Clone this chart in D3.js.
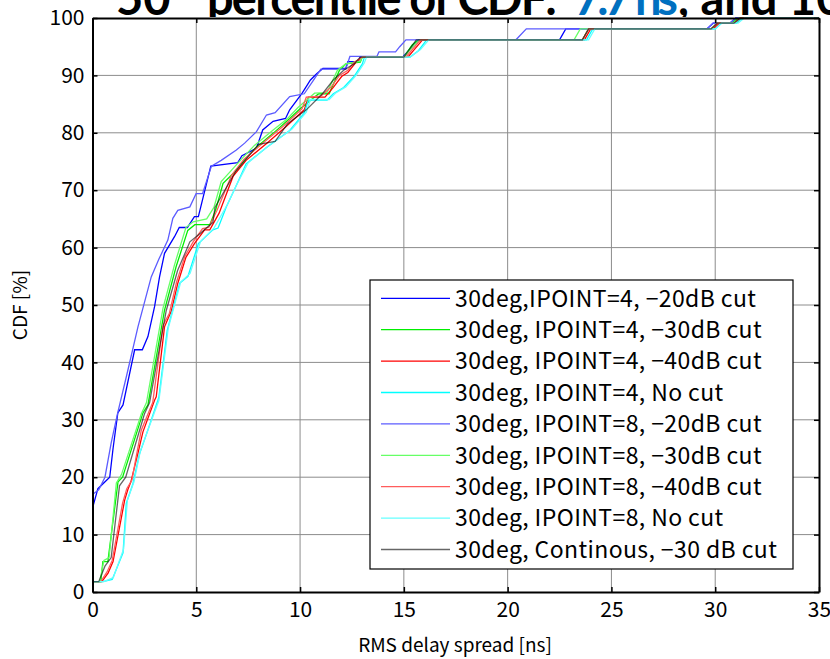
<!DOCTYPE html>
<html>
<head>
<meta charset="utf-8">
<script src="https://cdn.jsdelivr.net/npm/d3@7"></script>
<style>
  body { margin: 0; background: #fff; }
  svg { display: block; }
</style>
</head>
<body>
<div id="chart"></div>
<script>
// CDF curves: [RMS delay spread (ns), CDF (%)]
var ip4cut20 = [[0,14.6],[0.26,18],[0.83,20],[0.99,25],[1.22,31.2],[1.47,32.6],[2.03,42.2],[2.4,42.2],[2.67,44.5],[2.99,49.7],[3.23,54.9],[3.47,59],[3.95,61.9],[4.18,63.5],[4.57,63.5],[4.91,65.4],[5.1,65.4],[5.7,74.2],[7.0,74.8],[7.2,76],[7.9,77.3],[8.2,80.5],[8.7,82],[9.3,82.5],[9.5,84],[10.1,86.9],[10.5,89.2],[10.8,90.3],[11.1,91.2],[12.2,91.2],[12.3,92.4],[12.8,92.4],[12.9,93.2],[14.95,93.2],[15.7,96.2],[22.5,96.2],[22.8,98.1],[29.6,98.1],[29.9,99.1],[30.7,99.1],[31.0,100],[35,100]];
var ip4cut30 = [[0,1.8],[0.4,1.8],[0.5,5.3],[0.74,5.3],[1.23,19.2],[1.45,20],[2.43,31.2],[2.67,32.6],[3.47,49.1],[4.03,56.7],[4.59,63],[4.93,64],[5.65,64],[5.93,66.5],[6.29,71.2],[6.8,73],[7.3,75.2],[7.9,77.5],[8.7,79.9],[9.5,82.5],[10.0,84.2],[10.9,86.8],[11.4,86.8],[11.9,90.9],[12.2,92],[12.9,92.3],[13.0,93.2],[15.0,93.2],[15.4,95.3],[15.7,96.2],[23.6,96.2],[23.9,98.1],[29.8,98.1],[30.1,99.1],[30.8,99.1],[31.1,100],[35,100]];
var ip4cut40 = [[0,1.8],[0.45,1.8],[0.75,3.3],[0.99,5.3],[1.55,16],[1.7,17.8],[1.85,19.2],[2.19,24.2],[2.43,27.9],[2.99,33.4],[3.07,34],[3.47,46.2],[3.8,49],[4.11,53.8],[4.5,58.3],[4.91,60.7],[5.4,63.1],[5.65,63.1],[6.1,66],[6.77,72.4],[7.4,75.2],[8.4,78.2],[9.3,81],[10.2,84],[10.4,86.2],[11.2,86.2],[11.6,87.9],[12.0,89.8],[12.3,90.5],[12.7,92.3],[13.0,93.2],[15.2,93.2],[15.5,94.5],[15.9,96.2],[23.7,96.2],[24.0,98.1],[29.9,98.1],[30.2,99.1],[31.0,99.1],[31.3,100],[35,100]];
var ip4nocut = [[0,1.8],[0.5,1.8],[0.95,2.2],[1.47,6.8],[1.63,15.5],[1.94,18.8],[2.26,24],[2.6,27.5],[3.15,33.4],[3.2,34],[3.6,45.6],[4.2,53.8],[4.6,55],[5.1,60.7],[5.8,63.1],[6.05,63.4],[6.45,67.1],[6.9,70.6],[7.4,74.6],[8.4,77.5],[9.5,80.4],[10.2,83.4],[10.4,85.7],[11.3,85.7],[11.6,86.8],[12.1,87.9],[12.6,89.8],[13.0,92],[13.1,93.2],[15.3,93.2],[15.7,94.3],[16.1,96.2],[23.8,96.2],[24.1,98.1],[30.0,98.1],[30.3,99.1],[31.0,99.1],[31.3,100],[35,100]];
var ip8cut20 = [[0,17],[0.3,17.8],[0.6,20],[0.9,26],[1.2,31],[1.63,37.5],[2.19,46.2],[2.83,54.9],[3.2,58],[3.63,61.3],[3.87,65.1],[4.11,66.5],[4.69,67.1],[4.99,69.4],[5.3,69.4],[5.73,74.2],[6.2,75.2],[6.93,77],[7.33,78.2],[7.9,80.2],[8.38,83.1],[8.8,83.5],[9.5,86.3],[10.2,86.8],[10.6,88.9],[11.0,91.1],[12.2,91.1],[12.4,93.3],[13.7,93.3],[13.8,94.1],[14.6,94.1],[14.8,95],[15.1,96.2],[20.4,96.2],[20.9,98.1],[29.6,98.1],[29.9,99.1],[30.7,99.1],[31.0,100],[35,100]];
var ip8cut30 = [[0,1.8],[0.35,1.8],[0.55,5.5],[0.8,6],[1.15,19],[1.4,20.5],[2.35,31],[2.6,33],[3.4,49.5],[3.95,57],[4.5,63.5],[4.85,64.5],[5.5,65],[5.85,67],[6.2,71.5],[6.7,73.5],[7.2,75.5],[7.8,77.8],[8.6,80.2],[9.4,82.5],[9.9,84.4],[10.7,86.9],[11.3,87],[11.8,90.9],[12.2,92],[12.9,92.5],[13.0,93.2],[15.0,93.2],[15.5,95.3],[15.8,96.2],[23.2,96.2],[23.5,98.1],[29.8,98.1],[30.1,99.1],[30.9,99.1],[31.2,100],[35,100]];
var ip8cut40 = [[0,1.8],[0.4,1.8],[0.7,3.5],[0.95,5.5],[1.45,15.5],[1.65,18],[1.9,19.5],[2.1,23.5],[2.35,28.2],[2.9,33],[3.4,46.5],[3.7,48.5],[4.05,54],[4.45,58.5],[4.85,61],[5.3,63.3],[5.6,63.5],[6.0,66.5],[6.7,72.6],[7.3,75.4],[8.3,78.5],[9.2,81.2],[10.1,84.2],[10.3,86.2],[11.0,86.4],[11.5,88],[11.9,90],[12.3,90.9],[12.6,92.3],[13.0,93.2],[15.1,93.2],[15.8,96.2],[23.6,96.2],[23.9,98.1],[29.8,98.1],[30.1,99.1],[30.9,99.1],[31.2,100],[35,100]];
var ip8nocut = [[0,1.8],[0.55,1.8],[1.0,2.5],[1.5,7.5],[1.68,16],[2.0,19.2],[2.3,24.5],[2.65,28],[3.2,33.4],[3.65,46],[4.25,54],[4.7,55.5],[5.2,61],[5.85,63.4],[6.5,67.5],[6.95,71],[7.5,74.8],[8.5,77.8],[9.6,80.6],[10.3,83.6],[10.5,85.8],[11.4,85.8],[11.7,86.9],[12.2,88],[12.7,90],[13.1,92.2],[13.2,93.2],[15.3,93.2],[15.8,94.5],[16.2,96.2],[23.9,96.2],[24.2,98.1],[30.0,98.1],[30.3,99.1],[31.1,99.1],[31.4,100],[35,100]];
var contcut30 = [[0,1.8],[0.3,1.8],[0.6,4.5],[0.9,6],[1.3,18.5],[1.6,20],[2.5,31],[2.75,33],[3.55,49],[4.1,56],[4.69,61],[5.2,62.5],[5.8,64.4],[5.9,67],[6.9,73.3],[8.0,78],[8.8,78.5],[9.4,81.6],[10.3,84],[11.1,86.9],[11.6,89.2],[12.1,90.9],[12.6,92],[12.9,93.2],[15.0,93.2],[15.6,96.2],[23.6,96.2],[23.9,98.1],[29.8,98.1],[30.1,99.1],[30.9,99.1],[31.2,100],[35,100]];

var seriesData = [ip4cut20, ip4cut30, ip4cut40, ip4nocut, ip8cut20, ip8cut30, ip8cut40, ip8nocut, contcut30];
var seriesNames = [
    "30deg,IPOINT=4, \u221220dB cut",
    "30deg, IPOINT=4, \u221230dB cut",
    "30deg, IPOINT=4, \u221240dB cut",
    "30deg, IPOINT=4, No cut",
    "30deg, IPOINT=8, \u221220dB cut",
    "30deg, IPOINT=8, \u221230dB cut",
    "30deg, IPOINT=8, \u221240dB cut",
    "30deg, IPOINT=8, No cut",
    "30deg, Continous, \u221230 dB cut"
];
var xTicks = [0, 5, 10, 15, 20, 25, 30, 35];
var yTicks = [0, 10, 20, 30, 40, 50, 60, 70, 80, 90, 100];

// line styles
var colors = ["#0000ff", "#00ee00", "#ff0000", "#00ffff", "#5c5cff", "#66ff66", "#ff5c5c", "#66ffff", "#000000"];
var opac = [1, 1, 1, 1, 1, 1, 1, 1, 0.6];

var W = 830, H = 659;
var margin = {top: 18, right: 11, bottom: 67, left: 92.5};

var svg = d3.select("#chart").append("svg")
    .attr("width", W)
    .attr("height", H);

// slide title, mostly hidden behind the plot image
var title = svg.append("text")
    .attr("y", 15)
    .style("font-family", "Lato, 'Open Sans', sans-serif")
    .style("font-weight", "700")
    .style("font-size", "47px")
    .attr("fill", "#000");
title.append("tspan").attr("x", 116).text("50");
title.append("tspan").attr("x", 207).attr("textLength", 350).text("percentile of CDF:");
title.append("tspan").attr("x", 574).attr("textLength", 104).attr("fill", "#0070c0").text("7.7 ns");
title.append("tspan").attr("x", 678).text(", and 10.0 ns");

// plot image background covers the lower part of the title
svg.append("rect")
    .attr("x", 0).attr("y", 17)
    .attr("width", W).attr("height", H - 17)
    .attr("fill", "#fff");

var x = d3.scaleLinear().domain([0, 35]).range([margin.left, W - margin.right]);
var y = d3.scaleLinear().domain([0, 100]).range([H - margin.bottom, margin.top]);

var fontTick = "'Noto Sans CJK JP', 'Liberation Sans', sans-serif";

// grid
svg.append("g").selectAll("line.gx")
    .data(xTicks.slice(1, -1))
    .enter().append("line")
    .attr("x1", function (d) { return x(d); })
    .attr("x2", function (d) { return x(d); })
    .attr("y1", y(0)).attr("y2", y(100))
    .attr("stroke", "#8c8c8c").attr("stroke-width", 1);
svg.append("g").selectAll("line.gy")
    .data(yTicks.slice(1, -1))
    .enter().append("line")
    .attr("y1", function (d) { return y(d); })
    .attr("y2", function (d) { return y(d); })
    .attr("x1", x(0)).attr("x2", x(35))
    .attr("stroke", "#8c8c8c").attr("stroke-width", 1);

// curves
var line = d3.line()
    .x(function (d) { return x(d[0]); })
    .y(function (d) { return y(d[1]); });

svg.append("clipPath").attr("id", "clip")
    .append("rect")
    .attr("x", x(0)).attr("y", y(100) - 1)
    .attr("width", x(35) - x(0)).attr("height", y(0) - y(100) + 1);

var plot = svg.append("g").attr("clip-path", "url(#clip)");
seriesData.forEach(function (s, i) {
    plot.append("path")
        .datum(s)
        .attr("d", line)
        .attr("fill", "none")
        .attr("stroke", colors[i])
        .attr("stroke-opacity", opac[i])
        .attr("stroke-width", 1.3);
});

// axes (inward ticks on all four sides)
var xAxisB = d3.axisBottom(x).tickValues(xTicks).tickSizeInner(-5).tickSizeOuter(0).tickPadding(10);
var xAxisT = d3.axisTop(x).tickValues(xTicks).tickSizeInner(-5).tickSizeOuter(0).tickFormat("");
var yAxisL = d3.axisLeft(y).tickValues(yTicks).tickSizeInner(-5).tickSizeOuter(0).tickPadding(8);
var yAxisR = d3.axisRight(y).tickValues(yTicks).tickSizeInner(-5).tickSizeOuter(0).tickFormat("");

function styleAxis(g) {
    g.select(".domain").attr("stroke", "#000").attr("stroke-width", 2);
    g.selectAll(".tick line").attr("stroke", "#000").attr("stroke-width", 1.5);
    g.selectAll(".tick text")
        .style("font-family", fontTick)
        .style("font-size", "21px")
        .attr("fill", "#000");
}

svg.append("g").attr("transform", "translate(0," + y(0) + ")").call(xAxisB).call(styleAxis);
svg.append("g").attr("transform", "translate(0," + y(100) + ")").call(xAxisT).call(styleAxis);
svg.append("g").attr("transform", "translate(" + x(0) + ",0)").call(yAxisL).call(styleAxis);
svg.append("g").attr("transform", "translate(" + x(35) + ",0)").call(yAxisR).call(styleAxis);

// axis labels
svg.append("text")
    .attr("x", 455).attr("y", 652)
    .attr("text-anchor", "middle")
    .style("font-family", fontTick)
    .style("font-size", "19px")
    .text("RMS delay spread [ns]");
svg.append("text")
    .attr("transform", "translate(27,305) rotate(-90)")
    .attr("text-anchor", "middle")
    .style("font-family", fontTick)
    .style("font-size", "19px")
    .text("CDF [%]");

// legend
var lg = svg.append("g").attr("transform", "translate(370,280)");
lg.append("rect")
    .attr("width", 423).attr("height", 289)
    .attr("fill", "#fff").attr("stroke", "#000").attr("stroke-width", 1.2);
var rows = lg.selectAll("g.row")
    .data(seriesNames)
    .enter().append("g")
    .attr("transform", function (d, i) { return "translate(0," + (18.3 + i * 31.4) + ")"; });
rows.append("line")
    .attr("x1", 11).attr("x2", 80)
    .attr("stroke", function (d, i) { return colors[i]; })
    .attr("stroke-opacity", function (d, i) { return opac[i]; })
    .attr("stroke-width", 1.3);
rows.append("text")
    .attr("x", 85).attr("dy", "0.36em")
    .style("font-family", fontTick)
    .style("font-size", "23px")
    .style("letter-spacing", "0.4px")
    .text(function (d) { return d; });
</script>
</body>
</html>
